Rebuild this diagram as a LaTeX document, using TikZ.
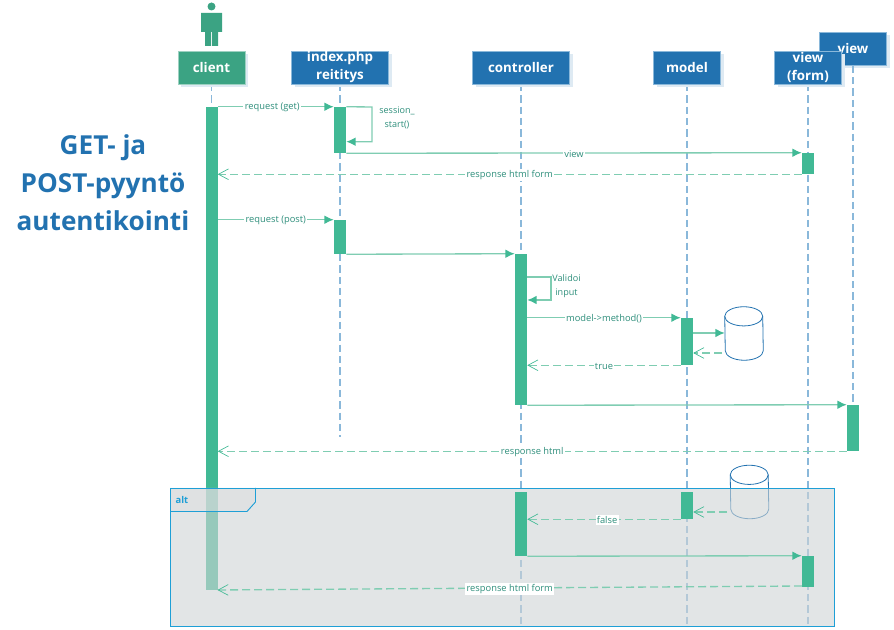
\documentclass[tikz,border=0pt]{standalone}
\usepackage{fontspec}
\setmainfont{Open Sans}
\usetikzlibrary{arrows.meta,shadows}

\definecolor{actgreen}{HTML}{41B995}
\definecolor{clientgreen}{HTML}{3BA383}
\definecolor{msggreen}{HTML}{7FCDB2}
\definecolor{textgreen}{HTML}{2F8F7C}
\definecolor{headblue}{HTML}{2272B0}
\definecolor{lifeblue}{HTML}{8AB8DA}
\definecolor{framecyan}{HTML}{1E9FD6}
\definecolor{framegray}{HTML}{CFD4D5}
\definecolor{tabgray}{HTML}{DDDDDF}

\tikzset{
	head/.style={draw=lifeblue, fill=headblue, text=white, font=\fontsize{10}{13.5}\selectfont\bfseries, align=center, inner sep=0pt, minimum width=67*.75pt, minimum height=33*.75pt, drop shadow={shadow xshift=3*.75pt, shadow yshift=-3*.75pt, fill=headblue!15, opacity=1}},
	life/.style={lifeblue, line width=1pt, dash pattern=on 5.5pt off 3pt},
	act/.style={fill=actgreen, draw=none, inner sep=0pt, minimum width=12*.75pt},
	msg/.style={msggreen, line width=1pt, -{Latex[length=7pt, width=6.5pt, actgreen]}},
	reply/.style={msggreen, line width=1pt, dash pattern=on 6pt off 3pt, -{Straight Barb[length=7.5pt, width=8pt, actgreen, line width=.5pt]}},
	lab/.style={midway, yshift=-.6pt, fill=white, inner sep=1pt, text=textgreen, font=\fontsize{7}{8}\selectfont},
	note/.style={text=textgreen, align=center, inner sep=0pt, font=\fontsize{6.8}{11}\selectfont},
	db/.style={inner sep=0pt, minimum width=38*.75pt, minimum height=53*.75pt},
	dbline/.style={draw=headblue, line width=.6pt}
}

\newcommand{\dbdraw}[1]{
	\filldraw[dbline, fill=white] ([yshift=-7.2pt]#1.north west) arc[start angle=180, end angle=0, x radius=14.25pt, y radius=7.2pt] -- ([yshift=7.2pt]#1.south east) arc[start angle=360, end angle=180, x radius=14.25pt, y radius=7.2pt] -- cycle;
	\draw[dbline] ([yshift=-7.2pt]#1.north west) arc[start angle=180, end angle=360, x radius=14.25pt, y radius=7.2pt];
}

\begin{document}
\begin{tikzpicture}[x=.75pt, y=-.75pt]
\useasboundingbox (0,0) rectangle (894,630);

\node[text=headblue, align=center, inner sep=0pt, font=\fontsize{19.6}{28.5}\selectfont\bfseries] (title) at (103,183) {GET- ja\\POST-pyyntö\\autentikointi};

\fill[clientgreen] (211.5,6.5) circle (4);
\fill[clientgreen] (201,13) rectangle (222,32) (205,32) rectangle (211,46) (212,32) rectangle (218,46);

\node[head] (view) at (853,49) {view};

\draw[life] (view.south) -- (853,405);
\draw[life] (211.5,84) -- (211.5,107);
\draw[life] (340,84) -- (340,437);
\draw[life] (521,84) -- (521,625);
\draw[life] (687,84) -- (687,625);
\draw[life] (808,84) -- (808,625);

\node[act, minimum height=483*.75pt] (actClient) at (211.5,348.5) {};
\node[db] (dbB) at (749.5,492) {};
\dbdraw{dbB}

\fill[framegray, fill opacity=.6] (170,488) rectangle (834,626);
\fill[tabgray, fill opacity=.5] (170,511.5) -- (247,511.5) -- (255.5,502) -- (255.5,488) -- (170,488) -- cycle;
\draw[framecyan, line width=.7pt] (170,488) rectangle (834,626);
\draw[framecyan, line width=.7pt] (170,511.5) -- (247,511.5) -- (255.5,502) -- (255.5,488);
\node[text=framecyan, inner sep=0pt, font=\fontsize{7}{8}\selectfont\bfseries] (alt) at (182,500) {alt};

\node[head, fill=clientgreen, draw=clientgreen!50] (client) at (211.5,67.5) {client};
\node[head, minimum width=97*.75pt] (index) at (340,67.5) {index.php\\reititys};
\node[head, minimum width=97*.75pt] (controller) at (521,67.5) {controller};
\node[head] (model) at (687,67.5) {model};
\node[head] (form) at (808,67.5) {view\\(form)};

\node[db] (dbA) at (744,333.5) {};
\dbdraw{dbA}

\node[act, minimum height=46*.75pt] (actIndexA) at (340,130) {};
\node[act, minimum height=34*.75pt] (actIndexB) at (340,237) {};
\node[act, minimum height=21*.75pt] (actFormA) at (808,163.5) {};
\node[act, minimum height=151*.75pt] (actCtrlA) at (521,329.5) {};
\node[act, minimum height=47*.75pt] (actModelA) at (687,341.5) {};
\node[act, minimum height=46*.75pt] (actView) at (853,428) {};
\node[act, minimum height=64*.75pt] (actCtrlB) at (521,524) {};
\node[act, minimum height=27*.75pt] (actModelB) at (687,505.5) {};
\node[act, minimum height=31*.75pt] (actFormB) at (808,571.5) {};

\coordinate (sessA) at (372,107);
\coordinate (sessB) at (372,141.7);
\coordinate (valA) at (551,277);
\coordinate (valB) at (551,300);
\coordinate (valC) at (527,277);
\coordinate (dbAin) at (693,333);
\coordinate (dbAout) at (722,353);
\coordinate (dbBout) at (727,512);
\coordinate (replyA) at (802,586);
\coordinate (replyB) at (217.5,590);

\draw[msg] (actClient.north east) -- (actIndexA.north west) node[lab, pos=.47] (getlab) {request (get)};
\draw[msg] (actIndexA.north east) -- (sessA) -- (sessB) -- (sessB -| actIndexA.east);
\node[note] (sesslab) at (397,118) {session\_\\start()};
\draw[msg] (actIndexA.south east) -- (actFormA.north west) node[lab] (viewlab) {view};
\draw[reply] (actFormA.south west) -- (actFormA.south west -| actClient.east) node[lab] (formlab) {response html form};
\draw[msg] (actIndexB.north west -| actClient.east) -- (actIndexB.north west) node[lab] (postlab) {request (post)};
\draw[msg] (actIndexB.south east) -- (actCtrlA.north west);
\draw[msg] (valC) -- (valA) -- (valB) -- (valB -| actCtrlA.east);
\node[note] (vallab) at (566.5,286) {Validoi\\input};
\draw[msg] (actModelA.north west -| actCtrlA.east) -- (actModelA.north west) node[lab] (methodlab) {model->method()};
\draw[msg] (dbAin) -- (dbAin -| dbA.west);
\draw[reply] (dbAout) -- (dbAout -| actModelA.east);
\draw[reply] (actModelA.south west) -- (actModelA.south west -| actCtrlA.east) node[lab] (truelab) {true};
\draw[msg] (actCtrlA.south east) -- (actView.north west);
\draw[reply] (actView.south west) -- (actView.south west -| actClient.east) node[lab] (htmllab) {response html};
\draw[reply] (actModelB.south west) -- (actModelB.south west -| actCtrlB.east) node[lab, pos=.48] (falselab) {false};
\draw[reply] (dbBout) -- (dbBout -| actModelB.east);
\draw[msg] (actCtrlB.south east) -- (actFormB.north west);
\draw[reply] (replyA) -- (replyB) node[lab] (form2lab) {response html form};
\end{tikzpicture}
\end{document}
